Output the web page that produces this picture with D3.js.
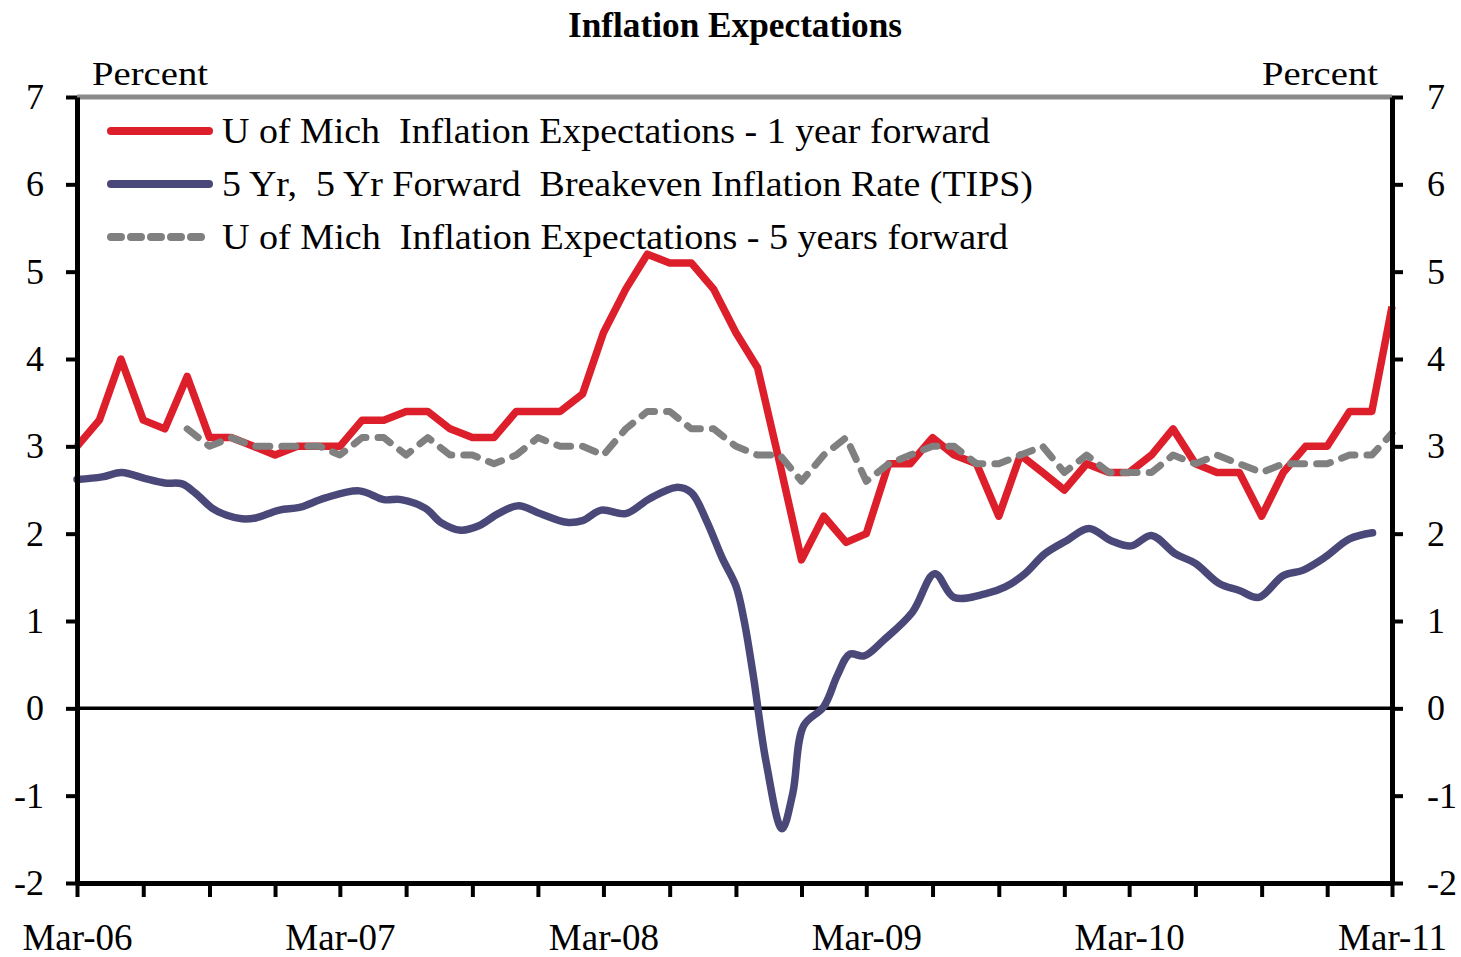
<!DOCTYPE html>
<html><head><meta charset="utf-8">
<script src="https://cdn.jsdelivr.net/npm/d3@7"></script>
<style>
body{margin:0;background:#fff}
text{font-family:"Liberation Serif","Times New Roman",serif;fill:#000}
</style>
</head><body>
<svg id="chart" width="1461" height="957"></svg>
<script>
// ---------------- DATA ----------------
const titleText = "Inflation Expectations";
const seriesNames = [
  "U of Mich  Inflation Expectations - 1 year forward",
  "5 Yr,  5 Yr Forward  Breakeven Inflation Rate (TIPS)",
  "U of Mich  Inflation Expectations - 5 years forward"
];
const startMonth = "2006-03-01";
const endMonth = "2011-03-01";
// Monthly, Mar-06 .. Mar-11
const umich1yr = [3.0,3.3,4.0,3.3,3.2,3.8,3.1,3.1,3.0,2.9,
  3.0,3.0,3.0,3.3,3.3,3.4,3.4,3.2,3.1,3.1,
  3.4,3.4,3.4,3.6,4.3,4.8,5.2,5.1,5.1,4.8,
  4.3,3.9,2.8,1.7,2.2,1.9,2.0,2.8,2.8,3.1,
  2.9,2.8,2.2,2.9,2.7,2.5,2.8,2.7,2.7,2.9,
  3.2,2.8,2.7,2.7,2.2,2.7,3.0,3.0,3.4,3.4,4.6];
// Monthly, starts Aug-06 (first 5 months missing)
const umich5yr = [null,null,null,null,null,
  3.2,3.0,3.1,3.0,3.0,3.0,3.0,2.9,3.1,3.1,
  2.9,3.1,2.9,2.9,2.8,2.9,3.1,3.0,3.0,2.9,
  3.2,3.4,3.4,3.2,3.2,3.0,2.9,2.9,2.6,2.9,
  3.1,2.6,2.8,2.9,3.0,3.0,2.8,2.8,2.9,3.0,
  2.7,2.9,2.7,2.7,2.7,2.9,2.8,2.9,2.8,2.7,
  2.8,2.8,2.8,2.9,2.9,3.15];
// TIPS 5y5y forward breakeven (higher-frequency)
const tipsDates = ["2006-03-01","2006-04-05","2006-05-02","2006-06-04","2006-07-01","2006-07-25","2006-08-13",
  "2006-09-05","2006-09-25","2006-10-16","2006-11-04","2006-12-07","2007-01-04","2007-02-09","2007-03-28",
  "2007-05-01","2007-05-25","2007-06-28","2007-07-19","2007-08-16","2007-09-10","2007-10-07","2007-11-04",
  "2007-12-04","2008-01-10","2008-02-01","2008-02-27","2008-04-01","2008-05-04","2008-06-10","2008-07-01",
  "2008-07-22","2008-08-13","2008-09-01","2008-09-12","2008-09-25","2008-10-13","2008-11-04","2008-11-19","2008-12-04",
  "2009-01-01","2009-01-20","2009-02-06","2009-02-26","2009-03-25","2009-05-04","2009-06-04","2009-07-01",
  "2009-08-13","2009-09-10","2009-10-07","2009-11-04","2009-12-04","2010-01-04","2010-02-04","2010-03-04",
  "2010-04-01","2010-05-04","2010-06-01","2010-07-04","2010-08-01","2010-08-28","2010-10-01","2010-10-28",
  "2010-11-28","2011-01-01","2011-02-02"];
const tipsValues = [2.62,2.65,2.70,2.63,2.58,2.57,2.46,
  2.29,2.21,2.17,2.18,2.27,2.30,2.41,2.49,
  2.39,2.39,2.29,2.13,2.04,2.09,2.23,2.32,
  2.23,2.13,2.15,2.27,2.23,2.40,2.53,2.47,
  2.15,1.72,1.40,1.02,0.38,-0.62,-1.38,-0.97,-0.20,
  0.02,0.38,0.62,0.60,0.78,1.10,1.54,1.27,
  1.31,1.39,1.54,1.77,1.92,2.06,1.92,1.86,
  1.98,1.77,1.66,1.43,1.35,1.27,1.52,1.58,
  1.73,1.94,2.01];
const yTicks = [-2,-1,0,1,2,3,4,5,6,7];
const yTickLabels = ["-2","-1","0","1","2","3","4","5","6","7"];
const xTickLabels = ["Mar-06","Mar-07","Mar-08","Mar-09","Mar-10","Mar-11"];
const axisTitle = "Percent";
const colors = ["#dc1f2b","#4a4879","#808080"];

// ---------------- CHART ----------------
const svg = d3.select("#chart");
const parse = d3.timeParse("%Y-%m-%d");
const t0 = parse(startMonth), t1 = parse(endMonth);
const months = d3.timeMonth.range(t0, d3.timeDay.offset(t1, 1));
const L = 77, R = 1392, T = 97, B = 883;
const x = d3.scaleTime().domain([t0, t1]).range([L, R]);
const y = d3.scaleLinear().domain([-2, 7]).range([B, T]);

// top gray border
svg.append("line").attr("x1", L).attr("x2", R).attr("y1", y(7)).attr("y2", y(7))
  .attr("stroke", "#8a8a8a").attr("stroke-width", 5);
// zero line
svg.append("line").attr("x1", L).attr("x2", R).attr("y1", y(0)).attr("y2", y(0))
  .attr("stroke", "#000").attr("stroke-width", 3.5);

const lineM = d3.line().defined(d => d[1] != null).x(d => x(d[0])).y(d => y(d[1]));
const redData = months.map((m, i) => [m, umich1yr[i]]);
const grayData = months.map((m, i) => [m, umich5yr[i]]);
const blueData = tipsDates.map((d, i) => [parse(d), tipsValues[i]]);

svg.append("path").datum(redData).attr("d", lineM)
  .attr("fill", "none").attr("stroke", colors[0]).attr("stroke-width", 7.5).attr("stroke-linejoin", "round");
svg.append("path").datum(blueData).attr("d", d3.line().x(d => x(d[0])).y(d => y(d[1])).curve(d3.curveCatmullRom.alpha(0.5)))
  .attr("fill", "none").attr("stroke", colors[1]).attr("stroke-width", 7.5).attr("stroke-linecap", "round").attr("stroke-linejoin", "round");
svg.append("path").datum(grayData).attr("d", lineM)
  .attr("fill", "none").attr("stroke", colors[2]).attr("stroke-width", 7)
  .attr("stroke-dasharray", "14,12").attr("stroke-linecap", "round").attr("stroke-linejoin", "round");

// axes
function styleAxis(g, fs) {
  g.select(".domain").attr("stroke", "#000").attr("stroke-width", 5);
  g.selectAll(".tick line").attr("stroke", "#000").attr("stroke-width", 4);
  g.selectAll(".tick text").attr("font-size", fs).attr("font-family", "Liberation Serif, Times New Roman, serif").attr("fill", "#000");
}
const gl = svg.append("g").attr("transform", `translate(${L},0)`)
  .call(d3.axisLeft(y).tickValues(yTicks).tickSize(11).tickSizeOuter(0).tickPadding(22)
    .tickFormat(d => yTickLabels[yTicks.indexOf(d)]));
styleAxis(gl, 36);
const gr = svg.append("g").attr("transform", `translate(${R},0)`)
  .call(d3.axisRight(y).tickValues(yTicks).tickSize(11).tickSizeOuter(0).tickPadding(24)
    .tickFormat(d => yTickLabels[yTicks.indexOf(d)]));
styleAxis(gr, 36);
const qTicks = d3.timeMonth.range(t0, d3.timeDay.offset(t1, 1), 3);
const gb = svg.append("g").attr("transform", `translate(0,${B})`)
  .call(d3.axisBottom(x).tickValues(qTicks).tickSize(14).tickSizeOuter(0).tickPadding(27)
    .tickFormat(d => d.getMonth() === 2 ? xTickLabels[d.getFullYear() - 2006] : ""));
styleAxis(gb, 37);

// title
svg.append("text").attr("x", 735).attr("y", 37).attr("text-anchor", "middle")
  .attr("font-size", 36).attr("font-weight", "bold")
  .attr("textLength", 334).attr("lengthAdjust", "spacingAndGlyphs").text(titleText);
// axis titles
svg.append("text").attr("x", 92).attr("y", 85).attr("font-size", 34)
  .attr("textLength", 116).attr("lengthAdjust", "spacingAndGlyphs").text(axisTitle);
svg.append("text").attr("x", 1262).attr("y", 85).attr("font-size", 34)
  .attr("textLength", 116).attr("lengthAdjust", "spacingAndGlyphs").text(axisTitle);

// legend
const legY = [131, 184, 237];
const legW = [768, 811, 786];
seriesNames.forEach((name, i) => {
  const ln = svg.append("line").attr("x1", 111).attr("x2", 209).attr("y1", legY[i]).attr("y2", legY[i])
    .attr("stroke", colors[i]).attr("stroke-width", 8).attr("stroke-linecap", "round");
  if (i === 2) ln.attr("stroke-dasharray", "10,10");
  svg.append("text").attr("x", 222).attr("y", legY[i] + 12).attr("font-size", 36)
    .attr("textLength", legW[i]).attr("lengthAdjust", "spacingAndGlyphs").attr("xml:space", "preserve")
    .style("white-space", "pre").text(name);
});
</script>
</body></html>
